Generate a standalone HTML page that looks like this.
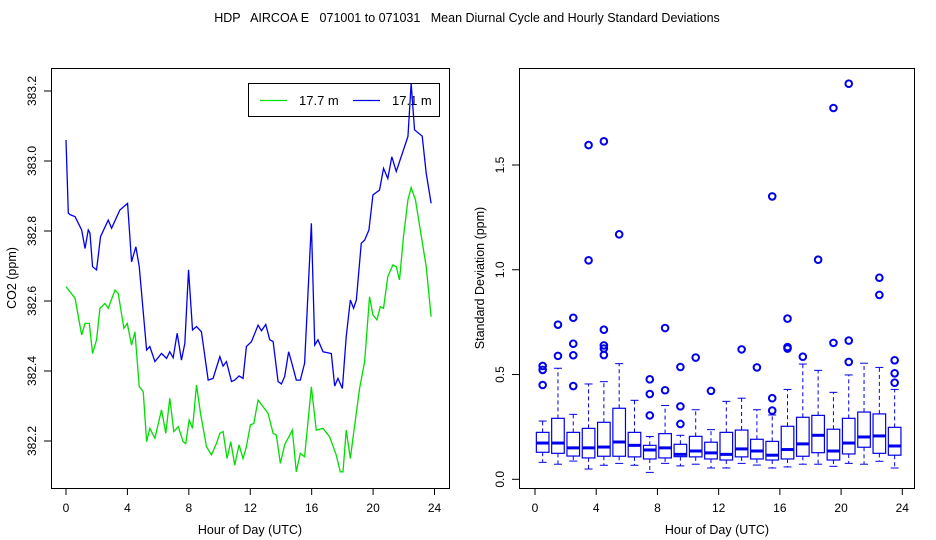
<!DOCTYPE html>
<html><head><meta charset="utf-8"><style>
body{margin:0;background:#fff}
svg{display:block;font-family:"Liberation Sans",sans-serif}
</style></head><body>
<svg id="c" width="936" height="540" viewBox="0 0 936 540">
<text x="467" y="22" text-anchor="middle" font-size="12.5" xml:space="preserve" style="white-space:pre">HDP   AIRCOA E   071001 to 071031   Mean Diurnal Cycle and Hourly Standard Deviations</text>
<g id="left"></g>
<g id="right"></g>
</svg>
<script>
// Left panel data: mean diurnal cycle
const blueHours=[0.00,0.15,0.30,0.59,1.02,1.24,1.45,1.56,1.73,1.99,2.25,2.75,2.97,3.51,4.01,4.27,4.55,4.77,5.25,5.46,5.79,6.22,6.55,6.76,6.98,7.24,7.52,7.74,7.98,8.24,8.50,8.82,9.26,9.58,10.02,10.23,10.45,10.78,10.99,11.27,11.53,11.75,12.08,12.51,12.73,13.01,13.27,13.49,13.81,14.03,14.24,14.50,14.68,15.00,15.26,15.54,15.98,16.20,16.41,16.74,17.28,17.50,17.71,18.00,18.25,18.52,18.73,18.91,19.23,19.45,19.73,19.99,20.42,20.68,20.96,21.22,21.51,22.27,22.48,22.70,23.20,23.46,23.78];
const blueValues=[383.060,382.851,382.846,382.841,382.803,382.750,382.803,382.794,382.698,382.689,382.784,382.831,382.808,382.860,382.879,382.712,382.755,382.698,382.460,382.470,382.427,382.450,382.436,382.455,382.438,382.508,382.431,382.479,382.689,382.517,382.527,382.512,382.374,382.379,382.441,382.414,382.427,382.370,382.374,382.386,382.379,382.470,382.484,382.531,382.515,382.533,382.489,382.484,382.370,382.363,382.384,382.455,382.427,382.374,382.374,382.422,382.822,382.474,382.489,382.455,382.450,382.357,382.379,382.350,382.498,382.603,382.579,382.603,382.765,382.774,382.803,382.903,382.917,382.979,382.950,383.012,382.970,383.070,383.222,383.089,383.071,382.965,382.879];
const greenHours=[0.00,0.59,1.02,1.24,1.52,1.73,1.99,2.21,2.54,2.75,3.19,3.40,3.77,3.99,4.27,4.49,4.77,5.03,5.25,5.46,5.79,6.22,6.50,6.76,7.02,7.31,7.63,7.80,8.02,8.24,8.50,8.76,9.15,9.47,9.80,10.02,10.23,10.49,10.73,10.99,11.27,11.53,11.75,12.01,12.23,12.51,13.16,13.49,13.70,13.96,14.24,14.74,15.00,15.26,15.54,15.98,16.30,16.74,17.17,17.60,17.86,18.04,18.25,18.52,18.73,19.12,19.45,19.77,19.99,20.25,20.47,20.68,20.96,21.29,21.51,21.72,21.98,22.27,22.48,22.76,23.46,23.78];
const greenValues=[382.641,382.608,382.503,382.536,382.536,382.450,382.489,382.579,382.593,382.579,382.631,382.622,382.522,382.536,382.474,382.512,382.355,382.341,382.198,382.236,382.208,382.289,382.222,382.322,382.227,382.241,382.198,382.193,382.260,382.236,382.360,382.279,382.184,382.160,382.193,382.222,382.227,382.150,382.198,382.131,382.189,382.150,382.184,382.246,382.250,382.317,382.279,382.222,382.217,382.136,382.189,382.231,382.112,382.165,382.155,382.355,382.231,382.236,382.212,382.160,382.112,382.112,382.231,382.150,382.222,382.350,382.427,382.612,382.560,382.546,382.584,382.579,382.670,382.703,382.698,382.660,382.784,382.889,382.924,382.889,382.698,382.555];
const xTicks=[0,4,8,12,16,20,24];
const leftYTicks=[382.2,382.4,382.6,382.8,383.0,383.2];
const legendLabels=["17.7 m","17.1 m"];
// Right panel data: hourly standard deviation boxplots
const boxHours=[0.5,1.5,2.5,3.5,4.5,5.5,6.5,7.5,8.5,9.5,10.5,11.5,12.5,13.5,14.5,15.5,16.5,17.5,18.5,19.5,20.5,21.5,22.5,23.5];
const boxQ1=[.129,.124,.111,.102,.110,.110,.107,.097,.102,.108,.107,.097,.092,.107,.097,.092,.097,.110,.127,.092,.121,.153,.124,.115];
const boxMed=[.173,.173,.150,.150,.154,.178,.162,.140,.150,.119,.135,.126,.119,.145,.135,.115,.142,.169,.210,.135,.173,.202,.207,.159];
const boxQ3=[.224,.291,.224,.243,.272,.339,.224,.162,.218,.167,.205,.177,.224,.235,.191,.181,.253,.296,.305,.239,.291,.321,.312,.248];
const whiskLo=[.081,.072,.087,.049,.067,.076,.067,.033,.076,.064,.072,.054,.054,.076,.068,.054,.059,.072,.072,.062,.076,.072,.086,.054];
const whiskHi=[.278,.530,.310,.455,.466,.552,.377,.204,.352,.210,.332,.237,.372,.387,.332,.307,.429,.550,.520,.415,.498,.554,.534,.429];
const outliers=[[.541,.522,.450],[.589,.738],[.445,.592,.647,.771],[1.045,1.595],[.593,.624,.639,.714,1.613],[1.169],[],[.305,.407,.477],[.425,.722],[.264,.348,.536],[.581],[.422],[],[.620],[.534],[.328,.387,1.350],[.624,.631,.767],[.585],[1.048],[.651,1.772],[.560,.662,1.888],[],[.880,.962],[.461,.506,.568]];
const rightYTicks=[0.0,0.5,1.0,1.5];

const NS="http://www.w3.org/2000/svg";
function mk(parent,tag,attrs){const e=document.createElementNS(NS,tag);for(const k in attrs)e.setAttribute(k,attrs[k]);parent.appendChild(e);return e;}

// ---- Left panel ----
const L=document.getElementById('left');
const lx=h=>66+h*(434.5-66)/24;
const ly=v=>441-(v-382.2)*350;
let fr=mk(L,'rect',{x:51.5,y:68.5,width:398,height:420,fill:'none',stroke:'#000'});

xTicks.forEach(t=>{
  let tk=mk(L,'line',{x1:lx(t),x2:lx(t),y1:488.5,y2:495,stroke:'#000'});
  
  let tl=mk(L,'text',{x:lx(t),y:512,'text-anchor':'middle','font-size':12});tl.textContent=t;
  
});
leftYTicks.forEach(t=>{
  let y=ly(t);
  let tk=mk(L,'line',{x1:44,x2:51.5,y1:y,y2:y,stroke:'#000'});
  
  let tl=mk(L,'text',{x:36,y:y,'text-anchor':'middle','font-size':12,transform:`rotate(-90 36 ${y})`});tl.textContent=t.toFixed(1);
  
});
let xt=mk(L,'text',{x:250,y:534,'text-anchor':'middle','font-size':12.5});xt.textContent='Hour of Day (UTC)';

let yt=mk(L,'text',{x:16,y:278,'text-anchor':'middle','font-size':12.5,transform:'rotate(-90 16 278)'});yt.textContent='CO2 (ppm)';

// legend
let lg=mk(L,'rect',{x:248.5,y:83.5,width:191,height:33,fill:'#fff',stroke:'#000'});

[['#00e000',260,299],['#0000ee',353,392]].forEach((c,i)=>{
  let ll=mk(L,'line',{x1:c[1],x2:c[1]+27,y1:100.5,y2:100.5,stroke:c[0],'stroke-width':1.2});
  
  let lt=mk(L,'text',{x:c[2],y:105,'font-size':13});lt.textContent=legendLabels[i];
  
});
let gp=mk(L,'polyline',{points:greenHours.map((h,i)=>lx(h)+','+ly(greenValues[i])).join(' '),fill:'none',stroke:'#00dd00','stroke-width':1.3});

let bp=mk(L,'polyline',{points:blueHours.map((h,i)=>lx(h)+','+ly(blueValues[i])).join(' '),fill:'none',stroke:'#0000ee','stroke-width':1.3});


// ---- Right panel ----
const R=document.getElementById('right');
const rx=h=>535+h*(902.3-535)/24;
const ry=v=>479.3-v*(479.3-165)/1.5;
let fr2=mk(R,'rect',{x:519.5,y:68.5,width:395,height:420,fill:'none',stroke:'#000'});

xTicks.forEach(t=>{
  let tk=mk(R,'line',{x1:rx(t),x2:rx(t),y1:488.5,y2:495,stroke:'#000'});
  
  let tl=mk(R,'text',{x:rx(t),y:512,'text-anchor':'middle','font-size':12});tl.textContent=t;
  
});
rightYTicks.forEach(t=>{
  let y=ry(t);
  let tk=mk(R,'line',{x1:512,x2:519.5,y1:y,y2:y,stroke:'#000'});
  
  let tl=mk(R,'text',{x:504,y:y,'text-anchor':'middle','font-size':12,transform:`rotate(-90 504 ${y})`});tl.textContent=t.toFixed(1);
  
});
let xt2=mk(R,'text',{x:717,y:534,'text-anchor':'middle','font-size':12.5});xt2.textContent='Hour of Day (UTC)';

let yt2=mk(R,'text',{x:484,y:278,'text-anchor':'middle','font-size':12.5,transform:'rotate(-90 484 278)'});yt2.textContent='Standard Deviation (ppm)';

const bw=12.6, cw=4;
boxHours.forEach((h,i)=>{
  const cx=rx(h);
  const g=mk(R,'g',{});
  
  let w1=mk(g,'line',{x1:cx,x2:cx,y1:ry(boxQ3[i]),y2:ry(whiskHi[i]),stroke:'#0000ee','stroke-dasharray':'4,3'});
  
  let w2=mk(g,'line',{x1:cx,x2:cx,y1:ry(boxQ1[i]),y2:ry(whiskLo[i]),stroke:'#0000ee','stroke-dasharray':'4,3'});
  
  let c1=mk(g,'line',{x1:cx-cw,x2:cx+cw,y1:ry(whiskHi[i]),y2:ry(whiskHi[i]),stroke:'#0000ee'});
  
  let c2=mk(g,'line',{x1:cx-cw,x2:cx+cw,y1:ry(whiskLo[i]),y2:ry(whiskLo[i]),stroke:'#0000ee'});
  
  let b=mk(g,'rect',{x:cx-bw/2,y:ry(boxQ3[i]),width:bw,height:ry(boxQ1[i])-ry(boxQ3[i]),fill:'#fff',stroke:'#0000ee','stroke-width':1.2});
  
  let m=mk(g,'line',{x1:cx-bw/2,x2:cx+bw/2,y1:ry(boxMed[i]),y2:ry(boxMed[i]),stroke:'#0000ee','stroke-width':3});
  
  outliers[i].forEach(v=>{
    let o=mk(g,'circle',{cx:cx,cy:ry(v),r:3.3,fill:'none',stroke:'#0000ee','stroke-width':2});
    
  });
});
</script>
</body></html>
